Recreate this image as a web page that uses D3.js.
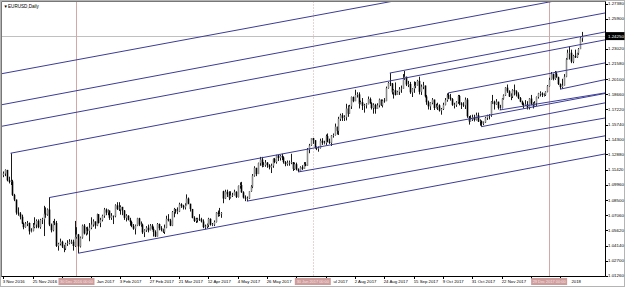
<!DOCTYPE html>
<html><head><meta charset="utf-8">
<script src="https://cdn.jsdelivr.net/npm/d3@7"></script>
<style>body{margin:0;background:#fff;overflow:hidden}svg{display:block}</style>
</head><body>
<svg id="chart" width="625" height="287"></svg>
<script>
// ---------------- DATA ----------------
const symbolTitle = "EURUSD,Daily";
const firstDay = "2016-11-03";
const holidays = ["2016-12-26", "2017-01-02", "2017-12-25", "2018-01-01"];
const firstOpen = 1.1090;
const openGaps = [[120, 1.0935]];
const closes = [
  1.1105,1.1140,
  1.1040,1.1025,1.1030,1.0900,1.0855,
  1.0730,1.0720,1.0690,1.0625,1.0590,
  1.0625,1.0630,1.0550,1.0555,1.0590,
  1.0615,1.0650,1.0590,1.0660,1.0665,
  1.0720,1.0710,1.0760,1.0615,1.0560,
  1.0635,1.0630,1.0410,1.0430,1.0450,
  1.0405,1.0385,1.0430,1.0435,1.0450,
  1.0450,1.0410,1.0495,1.0520,
  1.0405,1.0490,1.0605,1.0530,
  1.0575,1.0555,1.0585,1.0615,1.0645,
  1.0605,1.0715,1.0630,1.0660,1.0700,
  1.0760,1.0730,1.0750,1.0680,1.0700,
  1.0695,1.0800,1.0765,1.0760,1.0785,
  1.0750,1.0680,1.0700,1.0660,1.0640,
  1.0600,1.0575,1.0605,1.0675,1.0615,
  1.0615,1.0540,1.0560,1.0585,1.0560,
  1.0605,1.0575,1.0545,1.0500,1.0620,
  1.0580,1.0565,1.0545,1.0585,1.0670,
  1.0655,1.0605,1.0735,1.0765,1.0740,
  1.0740,1.0810,1.0795,1.0780,1.0800,
  1.0865,1.0815,1.0765,1.0680,1.0650,
  1.0665,1.0670,1.0665,1.0645,1.0590,
  1.0595,1.0610,1.0670,1.0615,1.0615,
  1.0640,1.0730,1.0715,1.0715,1.0725,
  1.0865,1.0930,1.0905,1.0875,1.0895,
  1.0900,1.0930,1.0880,1.0985,1.0995,
  1.0925,1.0875,1.0865,1.0865,1.0935,
  1.0980,1.1085,1.1160,1.1100,1.1205,
  1.1240,1.1180,1.1185,1.1210,1.1185,
  1.1165,1.1180,1.1245,1.1215,1.1280,
  1.1255,1.1275,1.1260,1.1215,1.1195,
  1.1210,1.1210,1.1215,1.1150,1.1195,
  1.1145,1.1130,1.1165,1.1150,1.1195,
  1.1180,1.1335,1.1375,1.1445,1.1425,
  1.1355,1.1345,1.1350,1.1420,1.1400,
  1.1400,1.1465,1.1410,1.1400,1.1470,
  1.1475,1.1555,1.1515,1.1630,1.1665,
  1.1640,1.1645,1.1730,1.1680,1.1750,
  1.1840,1.1800,1.1860,1.1865,1.1775,
  1.1790,1.1755,1.1760,1.1770,1.1820,
  1.1780,1.1735,1.1765,1.1725,1.1760,
  1.1815,1.1760,1.1805,1.1800,1.1925,
  1.1975,1.1970,1.1885,1.1905,1.1860,
  1.1890,1.1915,1.1920,1.2020,1.2035,
  1.1960,1.1965,1.1885,1.1920,1.1945,
  1.1950,1.1995,1.1890,1.1940,1.1950,
  1.1845,1.1790,1.1750,1.1785,1.1815,
  1.1735,1.1745,1.1760,1.1710,1.1725,
  1.1765,1.1810,1.1860,1.1835,1.1820,
  1.1765,1.1765,1.1790,1.1850,1.1780,
  1.1765,1.1760,1.1815,1.1655,1.1605,
  1.1625,1.1645,1.1620,1.1665,1.1605,
  1.1610,1.1585,1.1595,1.1640,1.1665,
  1.1665,1.1795,1.1795,1.1770,1.1795,
  1.1735,1.1735,1.1825,1.1855,1.1930,
  1.1895,1.1845,1.1845,1.1905,1.1895,
  1.1865,1.1830,1.1795,1.1770,1.1765,
  1.1770,1.1740,1.1825,1.1775,1.1750,
  1.1780,1.1840,1.1875,1.1875,1.1860,
  1.1860,1.1890,1.1945,1.2005,
  1.2060,1.2015,1.2065,1.2030,
  1.1965,1.1935,1.1950,1.2035,1.2200,
  1.2265,1.2265,1.2180,1.2235,1.2220,
  1.2260,1.2300,1.2405,1.2425
];
const highs = [
  1.1125,1.1145,
  1.1120,1.1075,1.1300,1.1045,1.0910,
  1.0830,1.0780,1.0735,1.0710,1.0635,
  1.0640,1.0650,1.0635,1.0580,1.0630,
  1.0685,1.0665,1.0665,1.0670,1.0680,
  1.0795,1.0780,1.0770,1.0874,1.0625,
  1.0650,1.0670,1.0650,1.0440,1.0480,
  1.0460,1.0420,1.0440,1.0465,1.0475,
  1.0470,1.0470,1.0650,1.0590,
  1.0525,1.0500,1.0615,1.0620,
  1.0590,1.0595,1.0630,1.0685,1.0665,
  1.0640,1.0720,1.0715,1.0680,1.0710,
  1.0775,1.0770,1.0760,1.0750,1.0725,
  1.0700,1.0810,1.0830,1.0830,1.0800,
  1.0775,1.0755,1.0715,1.0705,1.0680,
  1.0650,1.0620,1.0615,1.0680,1.0680,
  1.0645,1.0625,1.0570,1.0600,1.0615,
  1.0620,1.0620,1.0595,1.0560,1.0630,
  1.0625,1.0600,1.0575,1.0615,1.0700,
  1.0715,1.0670,1.0745,1.0775,1.0765,
  1.0780,1.0825,1.0820,1.0805,1.0820,
  1.0905,1.0875,1.0815,1.0765,1.0695,
  1.0680,1.0680,1.0715,1.0680,1.0665,
  1.0615,1.0625,1.0680,1.0675,1.0630,
  1.0655,1.0735,1.0750,1.0775,1.0735,
  1.0940,1.0950,1.0950,1.0935,1.0935,
  1.0920,1.0950,1.0935,1.0990,1.1020,
  1.1025,1.0935,1.0895,1.0885,1.0935,
  1.0995,1.1100,1.1175,1.1160,1.1210,
  1.1265,1.1265,1.1215,1.1235,1.1215,
  1.1195,1.1200,1.1250,1.1255,1.1285,
  1.1285,1.1285,1.1295,1.1270,1.1225,
  1.1230,1.1230,1.1295,1.1215,1.1210,
  1.1210,1.1155,1.1175,1.1185,1.1215,
  1.1215,1.1350,1.1390,1.1445,1.1445,
  1.1425,1.1365,1.1365,1.1440,1.1445,
  1.1420,1.1480,1.1490,1.1440,1.1475,
  1.1490,1.1585,1.1555,1.1650,1.1680,
  1.1685,1.1665,1.1775,1.1760,1.1765,
  1.1845,1.1845,1.1910,1.1885,1.1885,
  1.1805,1.1830,1.1775,1.1780,1.1845,
  1.1835,1.1790,1.1780,1.1775,1.1780,
  1.1825,1.1815,1.1815,1.1830,1.1940,
  1.1985,1.2070,1.1975,1.1915,1.1980,
  1.1900,1.1935,1.1950,1.2060,1.2090,
  1.2025,1.1995,1.1985,1.1925,1.1990,
  1.1985,1.2005,1.2035,1.1960,1.1985,
  1.1950,1.1860,1.1805,1.1790,1.1830,
  1.1800,1.1775,1.1785,1.1770,1.1735,
  1.1785,1.1830,1.1875,1.1880,1.1870,
  1.1830,1.1785,1.1800,1.1860,1.1860,
  1.1790,1.1790,1.1835,1.1830,1.1655,
  1.1665,1.1670,1.1670,1.1690,1.1690,
  1.1625,1.1615,1.1605,1.1650,1.1670,
  1.1675,1.1800,1.1860,1.1805,1.1820,
  1.1790,1.1765,1.1830,1.1865,1.1935,
  1.1960,1.1905,1.1875,1.1915,1.1960,
  1.1905,1.1885,1.1840,1.1805,1.1785,
  1.1810,1.1800,1.1830,1.1860,1.1790,
  1.1800,1.1845,1.1880,1.1895,1.1885,
  1.1875,1.1895,1.1955,1.2025,
  1.2080,1.2065,1.2090,1.2085,
  1.2035,1.1970,1.2015,1.2060,1.2215,
  1.2295,1.2325,1.2295,1.2245,1.2295,
  1.2265,1.2310,1.2415,1.2465
];
const lows = [
  1.1070,1.1080,
  1.1030,1.1010,1.0995,1.0890,1.0840,
  1.0710,1.0700,1.0665,1.0620,1.0570,
  1.0585,1.0600,1.0520,1.0540,1.0550,
  1.0580,1.0580,1.0580,1.0575,1.0620,
  1.0505,1.0680,1.0700,1.0600,1.0540,
  1.0550,1.0610,1.0400,1.0365,1.0415,
  1.0390,1.0350,1.0370,1.0410,1.0425,
  1.0430,1.0365,1.0400,1.0480,
  1.0340,1.0395,1.0480,1.0520,
  1.0510,1.0520,1.0455,1.0570,1.0595,
  1.0575,1.0600,1.0625,1.0590,1.0645,
  1.0680,1.0705,1.0705,1.0660,1.0660,
  1.0620,1.0685,1.0755,1.0745,1.0710,
  1.0705,1.0660,1.0645,1.0655,1.0605,
  1.0590,1.0565,1.0520,1.0600,1.0600,
  1.0595,1.0525,1.0495,1.0545,1.0540,
  1.0560,1.0565,1.0500,1.0495,1.0500,
  1.0560,1.0550,1.0535,1.0525,1.0580,
  1.0645,1.0600,1.0600,1.0685,1.0720,
  1.0715,1.0735,1.0775,1.0760,1.0760,
  1.0815,1.0810,1.0740,1.0675,1.0640,
  1.0630,1.0635,1.0650,1.0635,1.0580,
  1.0570,1.0580,1.0590,1.0605,1.0600,
  1.0600,1.0635,1.0690,1.0695,1.0680,
  1.0820,1.0860,1.0880,1.0850,1.0865,
  1.0880,1.0895,1.0870,1.0875,1.0960,
  1.0920,1.0865,1.0840,1.0840,1.0860,
  1.0930,1.0965,1.1075,1.1080,1.1110,
  1.1180,1.1165,1.1170,1.1170,1.1160,
  1.1145,1.1110,1.1160,1.1205,1.1200,
  1.1225,1.1230,1.1235,1.1200,1.1175,
  1.1180,1.1180,1.1195,1.1130,1.1140,
  1.1135,1.1120,1.1120,1.1140,1.1150,
  1.1175,1.1185,1.1300,1.1370,1.1390,
  1.1345,1.1330,1.1315,1.1345,1.1380,
  1.1385,1.1380,1.1405,1.1390,1.1370,
  1.1450,1.1470,1.1480,1.1475,1.1610,
  1.1610,1.1610,1.1615,1.1650,1.1680,
  1.1725,1.1790,1.1800,1.1835,1.1730,
  1.1770,1.1715,1.1690,1.1730,1.1770,
  1.1775,1.1720,1.1680,1.1680,1.1730,
  1.1740,1.1755,1.1740,1.1785,1.1800,
  1.1920,1.1945,1.1865,1.1825,1.1855,
  1.1860,1.1860,1.1880,1.1925,1.2005,
  1.1945,1.1935,1.1870,1.1840,1.1880,
  1.1925,1.1950,1.1865,1.1860,1.1915,
  1.1835,1.1765,1.1720,1.1715,1.1770,
  1.1715,1.1730,1.1715,1.1700,1.1670,
  1.1715,1.1760,1.1795,1.1820,1.1805,
  1.1755,1.1730,1.1745,1.1775,1.1760,
  1.1725,1.1745,1.1725,1.1640,1.1575,
  1.1605,1.1610,1.1605,1.1615,1.1600,
  1.1565,1.1555,1.1570,1.1590,1.1620,
  1.1625,1.1650,1.1775,1.1720,1.1765,
  1.1720,1.1715,1.1730,1.1815,1.1850,
  1.1880,1.1840,1.1810,1.1830,1.1855,
  1.1845,1.1820,1.1790,1.1760,1.1730,
  1.1755,1.1720,1.1720,1.1760,1.1730,
  1.1745,1.1755,1.1825,1.1845,1.1840,
  1.1845,1.1850,1.1885,1.1940,
  1.2005,1.2000,1.2005,1.2025,
  1.1955,1.1915,1.1920,1.1960,1.2030,
  1.2200,1.2200,1.2165,1.2165,1.2215,
  1.2215,1.2245,1.2300,1.2370
];
const priceTicks = [1.27380,1.25900,1.24480,1.23020,1.21580,1.20100,1.18660,1.17220,1.15740,1.14300,1.12880,1.11420,1.09960,1.08500,1.07060,1.05620,1.04140,1.02700,1.01260];
const bidPrice = 1.2425;
// trend lines: [start bar, start price, second bar, second price] (rays to the right)
const trendLines = [
  [-2, 1.2060, 320, 1.3110],
  [-2, 1.1762, 320, 1.2825],
  [-2, 1.1555, 320, 1.2619],
  [4, 1.1300, 320, 1.2360],
  [25, 1.0874, 320, 1.1846],
  [41, 1.0340, 320, 1.1265],
  [133, 1.0840, 320, 1.1440],
  [161, 1.1120, 320, 1.1612],
  [211, 1.2070, 320, 1.2436],
  [243, 1.1880, 320, 1.2139],
  [261, 1.1555, 320, 1.1755],
  [271, 1.1715, 320, 1.1855],
  [304, 1.1915, 320, 1.1975]
];
const vLineBars = [40, 169, 298];
const vLineLabels = ["30 Dec 2016 00:00", "30 Jun 2017 00:00", "29 Dec 2017 00:00"];
const vLineDotted = [false, true, false];

// ---------------- LAYOUT ----------------
const W = 625, H = 287;
const plotL = 1.5, plotT = 1.5, plotR = 605.5, plotB = 276.5;
const svg = d3.select("#chart");
const fontFam = "'Liberation Sans', Arial, sans-serif";
const fsX = 4.3, fsY = 4.4;

// trading dates
const parse = d3.timeParse("%Y-%m-%d"), fmtISO = d3.timeFormat("%Y-%m-%d");
const dates = [];
let d = parse(firstDay);
while (dates.length < closes.length) {
  const wd = d.getDay();
  if (wd !== 0 && wd !== 6 && !holidays.includes(fmtISO(d))) dates.push(new Date(d));
  d = d3.timeDay.offset(d, 1);
}
const opens = closes.map((c, i) => i === 0 ? firstOpen : closes[i - 1]);
openGaps.forEach(([i, o]) => opens[i] = o);
const bars = closes.map((c, i) => ({i, date: dates[i], o: opens[i], h: highs[i], l: lows[i], c}));

const x = d3.scaleLinear().domain([0, 316]).range([3.2, 3.2 + 1.832 * 316]);
const y = d3.scaleLinear().domain([1.0126, 1.2738]).range([275.5, 3.5]);

svg.append("rect").attr("width", W).attr("height", H).attr("fill", "#fff");
svg.append("defs").append("clipPath").attr("id", "clip")
  .append("rect").attr("x", plotL).attr("y", plotT).attr("width", plotR - plotL).attr("height", plotB - plotT);
const plot = svg.append("g").attr("clip-path", "url(#clip)");

// bid line
const bidY = Math.round(y(bidPrice)) + 0.5;
plot.append("line").attr("x1", plotL).attr("x2", plotR).attr("y1", bidY).attr("y2", bidY)
  .attr("stroke", "#c0c0c0").attr("stroke-width", 1);

// vertical lines
vLineBars.forEach((b, k) => {
  const xx = Math.round(x(b)) + 0.5;
  plot.append("line").attr("x1", xx).attr("x2", xx).attr("y1", plotT).attr("y2", plotB)
    .attr("stroke", "#d2a8a8").attr("stroke-width", 1)
    .attr("stroke-dasharray", vLineDotted[k] ? "1,2" : null);
});

// candles
const cg = plot.append("g");
bars.forEach(b => {
  const xx = Math.round(x(b.i)) + 0.5;
  const hi = Math.max(b.h, b.o, b.c), lo = Math.min(b.l, b.o, b.c);
  cg.append("line").attr("x1", xx).attr("x2", xx).attr("y1", y(hi)).attr("y2", y(lo))
    .attr("stroke", "#1a1a1a").attr("stroke-width", 1);
  const top = y(Math.max(b.o, b.c)), bot = y(Math.min(b.o, b.c));
  cg.append("rect").attr("x", xx - 0.8).attr("width", 1.6)
    .attr("y", top).attr("height", Math.max(0.6, bot - top))
    .attr("fill", b.c >= b.o ? "#8a8a8a" : "#000");
});

// trend lines (rays to the right edge)
trendLines.forEach(([i1, p1, i2, p2]) => {
  const x1 = x(i1), y1 = y(p1), x2 = x(i2), y2 = y(p2);
  const xe = plotR + 2, ye = y1 + (y2 - y1) * (xe - x1) / (x2 - x1);
  plot.append("line").attr("x1", x1).attr("y1", y1).attr("x2", xe).attr("y2", ye)
    .attr("stroke", "#3c3c98").attr("stroke-width", 1);
});

// frame
svg.append("rect").attr("x", 0.5).attr("y", 0.5).attr("width", W - 1).attr("height", H - 1)
  .attr("fill", "none").attr("stroke", "#b4b4b4");
svg.append("line").attr("x1", plotL).attr("x2", plotL).attr("y1", plotT).attr("y2", plotB).attr("stroke", "#777");
svg.append("line").attr("x1", plotL).attr("x2", plotR).attr("y1", plotT).attr("y2", plotT).attr("stroke", "#777");
svg.append("line").attr("x1", plotR).attr("x2", plotR).attr("y1", plotT).attr("y2", plotB).attr("stroke", "#000");
svg.append("line").attr("x1", plotL).attr("x2", plotR).attr("y1", plotB).attr("y2", plotB).attr("stroke", "#000");

// price axis (the label under the bid box is hidden, as on the reference)
const yAxis = svg.append("g");
priceTicks.forEach(p => {
  const yy = y(p);
  yAxis.append("line").attr("x1", plotR).attr("x2", plotR + 2.5).attr("y1", Math.round(yy) + 0.5).attr("y2", Math.round(yy) + 0.5).attr("stroke", "#000");
  if (Math.abs(yy - y(bidPrice)) < 6) return;
  yAxis.append("text").attr("x", 608).attr("y", yy).attr("dy", "0.35em")
    .attr("font-family", fontFam).attr("font-size", fsY).attr("fill", "#000")
    .text(d3.format(".5f")(p));
});

// vertical line date boxes (occlude the time labels beneath)
const boxHalf = 18;
const boxes = vLineBars.map(b => [x(b) - boxHalf, x(b) + boxHalf]);

// time axis
const fmtDate = d3.timeFormat("%-d %b %Y");
const xAxis = svg.append("g");
bars.filter(b => b.i % 16 === 0).forEach(b => {
  const xx = Math.round(x(b.i)) + 0.5;
  xAxis.append("line").attr("x1", xx).attr("x2", xx).attr("y1", plotB).attr("y2", plotB + 2.5).attr("stroke", "#000");
  let str = fmtDate(b.date);
  let tx = xx - 0.8;
  const t = xAxis.append("text").attr("y", 283.2).style("white-space", "pre")
    .attr("font-family", fontFam).attr("font-size", fsX).attr("fill", "#000").text(str);
  const wOf = s => { t.text(s); return s.length ? t.node().getComputedTextLength() : 0; };
  let hidden = false;
  boxes.forEach(([b0, b1]) => {
    if (hidden) return;
    const full = wOf(str);
    if (!(tx < b1 && tx + full > b0)) return;
    if (tx >= b0 - 2) {
      // start hidden: drop leading chars until past the box end
      let k = 0;
      while (k < str.length && tx + wOf(str.slice(0, k)) < b1 + 1.5) k++;
      let rest = str.slice(k);
      const lead = rest.match(/^\s*/)[0].length;
      k += lead; rest = str.slice(k);
      if (!rest.length) { hidden = true; return; }
      tx += wOf(str.slice(0, k));
      str = rest;
    } else {
      // end hidden: drop trailing chars (only a sliver may overlap)
      while (str.length && tx + wOf(str) - b0 > 1.5) str = str.slice(0, -1);
    }
  });
  t.text(str);
  if (hidden || !str.trim().length) t.remove(); else t.attr("x", tx);
});

vLineBars.forEach((b, k) => {
  const xx = x(b);
  const g = svg.append("g");
  g.append("rect").attr("x", boxes[k][0]).attr("y", 278).attr("width", boxHalf * 2).attr("height", 7)
    .attr("fill", "#cf9c9c");
  g.append("text").attr("x", xx).attr("y", 283).attr("text-anchor", "middle")
    .attr("font-family", fontFam).attr("font-size", 3.9).attr("fill", "#f6e6e6")
    .text(vLineLabels[k]);
});

// bid label
const by = y(bidPrice);
svg.append("rect").attr("x", 605.5).attr("y", by - 4).attr("width", 19).attr("height", 8).attr("fill", "#000");
svg.append("text").attr("x", 608).attr("y", by).attr("dy", "0.35em")
  .attr("font-family", fontFam).attr("font-size", fsY).attr("fill", "#fff")
  .text(d3.format(".5f")(bidPrice));

// title
svg.append("text").attr("x", 3.5).attr("y", 8).attr("font-family", fontFam).attr("font-size", 4.4).attr("fill", "#000").text("▼");
svg.append("text").attr("x", 8).attr("y", 8).attr("font-family", fontFam).attr("font-size", 4.6).attr("fill", "#000").text(symbolTitle);
</script>
</body></html>
